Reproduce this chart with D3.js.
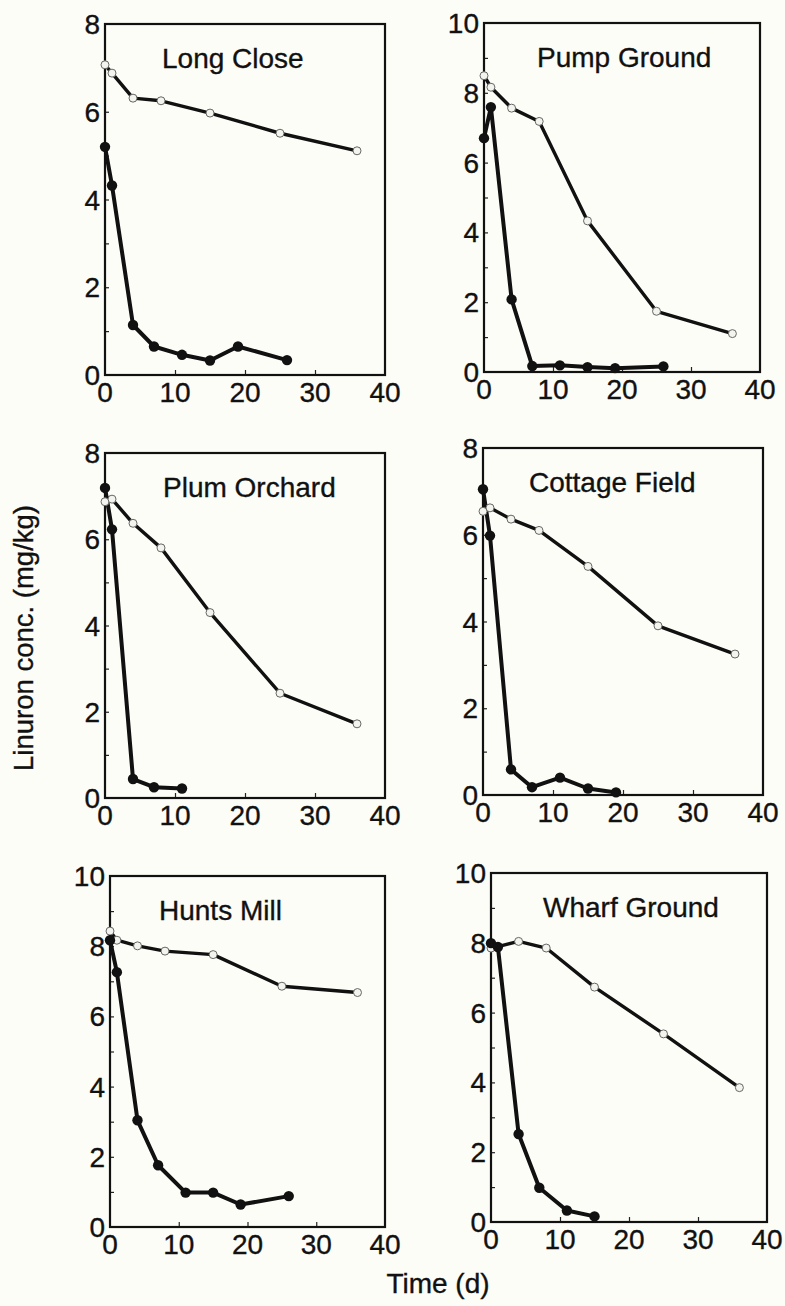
<!DOCTYPE html>
<html>
<head>
<meta charset="utf-8">
<script src="https://cdn.jsdelivr.net/npm/d3@7"></script>
<style>
  html, body { margin: 0; padding: 0; background: #fdfdf8; }
  svg { display: block; }
  text { font-family: "Liberation Sans", Arial, Helvetica, sans-serif; fill: #111; stroke: #111; stroke-width: 0.35px; }
</style>
</head>
<body>
<svg id="chart" width="785" height="1306"></svg>
<script>
// ---------------- DATA ----------------
const siteNames = ["Long Close", "Pump Ground", "Plum Orchard", "Cottage Field", "Hunts Mill", "Wharf Ground"];
const yMaxima = [8, 10, 8, 8, 10, 10];
const xTickValues = [0, 10, 20, 30, 40];
const yTicks8 = [0, 2, 4, 6, 8];
const yTicks10 = [0, 2, 4, 6, 8, 10];

// open-circle series (days)
const openDays = [0, 1, 4, 8, 15, 25, 36];
// filled-circle series (days)
const filledDays = [0, 1, 4, 7, 11, 15, 19, 26];

const longCloseOpen    = [7.07, 6.88, 6.31, 6.25, 5.97, 5.51, 5.11];
const longCloseFilled  = [5.20, 4.32, 1.14, 0.65, 0.46, 0.33, 0.65, 0.34];

const pumpGroundOpen   = [8.49, 8.16, 7.56, 7.18, 4.33, 1.74, 1.10];
const pumpGroundFilled = [6.70, 7.59, 2.08, 0.17, 0.19, 0.14, 0.11, 0.16];

const plumOrchardOpen   = [6.87, 6.93, 6.37, 5.80, 4.30, 2.43, 1.72];
const plumOrchardFilled = [7.19, 6.23, 0.44, 0.25, 0.22];

const cottageFieldOpen   = [6.54, 6.62, 6.36, 6.10, 5.27, 3.90, 3.25];
const cottageFieldFilled = [7.05, 5.98, 0.59, 0.18, 0.40, 0.15, 0.06];

const huntsMillOpen   = [8.43, 8.17, 8.01, 7.86, 7.76, 6.86, 6.68];
const huntsMillFilled = [8.17, 7.26, 3.04, 1.76, 0.98, 0.98, 0.64, 0.88];

const wharfGroundOpen   = [7.85, 7.89, 8.04, 7.85, 6.73, 5.39, 3.85];
const wharfGroundFilled = [7.99, 7.88, 2.52, 0.98, 0.33, 0.16];

const openSeries   = [longCloseOpen, pumpGroundOpen, plumOrchardOpen, cottageFieldOpen, huntsMillOpen, wharfGroundOpen];
const filledSeries = [longCloseFilled, pumpGroundFilled, plumOrchardFilled, cottageFieldFilled, huntsMillFilled, wharfGroundFilled];

// ---------------- LAYOUT ----------------
const panelBoxes = [
  {l: 105, t: 24,  r: 385, b: 375, titleDx: 57},
  {l: 484, t: 23,  r: 760, b: 372, titleDx: 53},
  {l: 105, t: 453, r: 385, b: 798, titleDx: 58},
  {l: 483, t: 448, r: 763, b: 795, titleDx: 46},
  {l: 110, t: 876, r: 385, b: 1227, titleDx: 49},
  {l: 491, t: 873, r: 767, b: 1222, titleDx: 52}
];

const svg = d3.select("#chart");
svg.append("rect").attr("width", 785).attr("height", 1306).attr("fill", "#fdfdf8");

const FONT = 28;

siteNames.forEach((name, i) => {
  const box = panelBoxes[i];
  const x = d3.scaleLinear().domain([0, 40]).range([box.l, box.r]);
  const y = d3.scaleLinear().domain([0, yMaxima[i]]).range([box.b, box.t]);
  const g = svg.append("g");

  // minor ticks on y axis (every unit, inward)
  const yMinor = d3.range(1, yMaxima[i]);
  const yAxis = d3.axisRight(y).tickValues(yMinor).tickSize(4).tickFormat("");
  g.append("g").attr("transform", `translate(${box.l},0)`).call(yAxis)
    .call(s => s.select(".domain").remove())
    .call(s => s.selectAll("line").attr("stroke", "#222").attr("stroke-width", 1.2));

  // x ticks inward
  const xAxis = d3.axisTop(x).tickValues([10, 20, 30]).tickSize(5).tickFormat("");
  g.append("g").attr("transform", `translate(0,${box.b})`).call(xAxis)
    .call(s => s.select(".domain").remove())
    .call(s => s.selectAll("line").attr("stroke", "#222").attr("stroke-width", 1.2));

  // frame
  g.append("rect")
    .attr("x", box.l).attr("y", box.t)
    .attr("width", box.r - box.l).attr("height", box.b - box.t)
    .attr("fill", "none").attr("stroke", "#111").attr("stroke-width", 2.2);

  // y tick labels
  const yt = yMaxima[i] === 8 ? yTicks8 : yTicks10;
  g.selectAll(".ylab").data(yt).enter().append("text")
    .attr("x", box.l - 5).attr("y", d => y(d))
    .attr("dy", "0.36em")
    .attr("text-anchor", "end")
    .attr("font-size", FONT)
    .text(d => d);

  // x tick labels
  g.selectAll(".xlab").data(xTickValues).enter().append("text")
    .attr("x", d => x(d)).attr("y", box.b + 27)
    .attr("text-anchor", "middle")
    .attr("font-size", FONT)
    .text(d => d);

  // title
  g.append("text")
    .attr("x", box.l + box.titleDx).attr("y", box.t + 44)
    .attr("font-size", 28)
    .text(name);

  const line = d3.line().x(d => x(d[0])).y(d => y(d[1]));

  const openPts = openDays.map((d, k) => [d, openSeries[i][k]]);
  const filledPts = filledSeries[i].map((v, k) => [filledDays[k], v]);

  g.append("path").datum(openPts).attr("d", line)
    .attr("fill", "none").attr("stroke", "#111").attr("stroke-width", 3.4)
    .attr("stroke-linejoin", "round");
  g.append("path").datum(filledPts).attr("d", line)
    .attr("fill", "none").attr("stroke", "#111").attr("stroke-width", 4)
    .attr("stroke-linejoin", "round");

  g.selectAll(".open").data(openPts).enter().append("circle")
    .attr("cx", d => x(d[0])).attr("cy", d => y(d[1])).attr("r", 4)
    .attr("fill", "#f4f4ee").attr("stroke", "#666").attr("stroke-width", 1);

  g.selectAll(".filled").data(filledPts).enter().append("circle")
    .attr("cx", d => x(d[0])).attr("cy", d => y(d[1])).attr("r", 5.2)
    .attr("fill", "#111");
});

// axis titles
svg.append("text")
  .attr("transform", "translate(33,638) rotate(-90)")
  .attr("text-anchor", "middle")
  .attr("font-size", 27.5)
  .text("Linuron conc. (mg/kg)");

svg.append("text")
  .attr("x", 438).attr("y", 1293)
  .attr("text-anchor", "middle")
  .attr("font-size", 28)
  .text("Time (d)");
</script>
</body>
</html>
